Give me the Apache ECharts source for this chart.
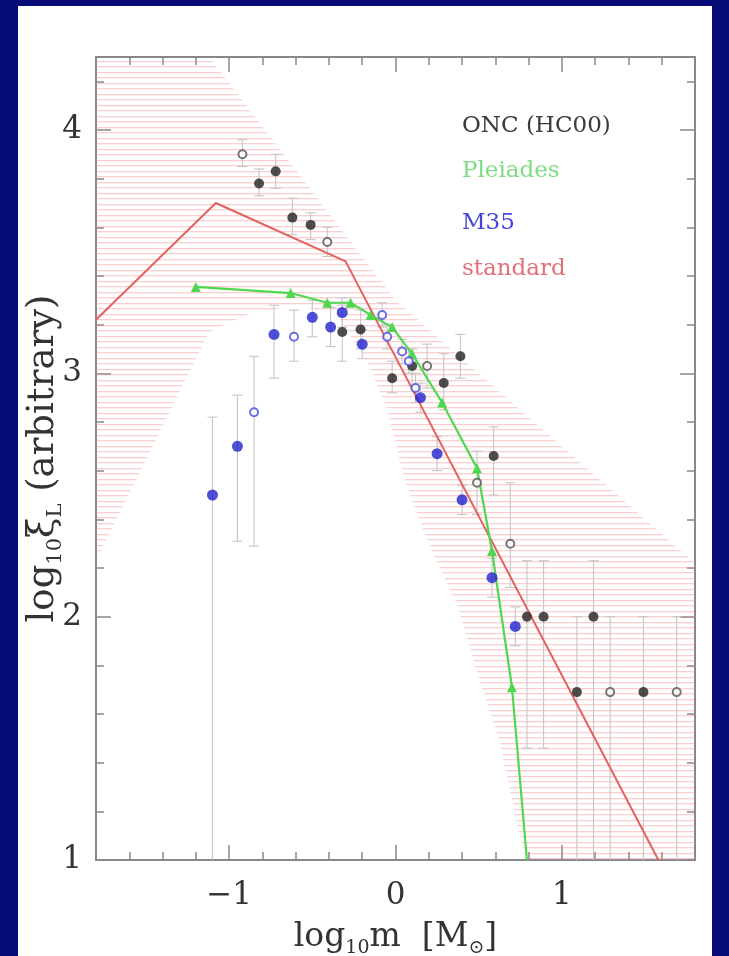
<!DOCTYPE html>
<html>
<head>
<meta charset="utf-8">
<script src="https://cdn.jsdelivr.net/npm/echarts@6/dist/echarts.min.js"></script>
<style>
  html, body { margin: 0; padding: 0; width: 729px; height: 956px; overflow: hidden; background: #070b78; }
  #chart { position: absolute; left: 18px; top: 6px; width: 694px; height: 950px; background: #ffffff; }
</style>
</head>
<body>
<div id="chart"></div>
<script>
// Axis ranges and tick positions
const xMin = -1.8, xMax = 1.8, yMin = 1, yMax = 4.3;
const xMajorTicks = [-1, 0, 1];
const xMinorTicks = [-1.6, -1.4, -1.2, -0.8, -0.6, -0.4, -0.2, 0.2, 0.4, 0.6, 0.8, 1.2, 1.4, 1.6];
const yMajorTicks = [1, 2, 3, 4];
const yMinorTicks = [1.2, 1.4, 1.6, 1.8, 2.2, 2.4, 2.6, 2.8, 3.2, 3.4, 3.6, 3.8, 4.2];

// Standard (multi-part power-law) mass function
const standardX = [-1.8, -1.08, -0.3, 1.58];
const standardY = [3.22, 3.70, 3.46, 1.0];

// Uncertainty envelope of the standard function
const bandUpper = [[-1.8, 4.3], [-1.12, 4.3], [0.0, 3.3], [1.8, 2.22]];
const bandLower = [[-1.8, 2.23], [-1.12, 3.17], [-0.9, 3.24], [-0.6, 3.28], [-0.35, 3.24],
                   [-0.17, 3.05], [-0.05, 2.85], [0.06, 2.55], [0.2, 2.3], [0.37, 2.05],
                   [0.5, 1.75], [0.62, 1.5], [0.7, 1.25], [0.78, 1.0]];

// ONC (Hillenbrand & Carpenter 2000)
const oncX    = [-0.92, -0.82, -0.72, -0.62, -0.51, -0.41, -0.32, -0.21, -0.02, 0.10, 0.19, 0.29, 0.39, 0.49, 0.59, 0.69, 0.79, 0.89, 1.09, 1.19, 1.29, 1.49, 1.69];
const oncY    = [3.90, 3.78, 3.83, 3.64, 3.61, 3.54, 3.17, 3.18, 2.98, 3.03, 3.03, 2.96, 3.07, 2.55, 2.66, 2.30, 2.00, 2.00, 1.69, 2.00, 1.69, 1.69, 1.69];
const oncOpen = [1, 0, 0, 0, 0, 1, 0, 0, 0, 0, 1, 0, 0, 1, 0, 1, 0, 0, 0, 0, 1, 0, 1];
const oncLo   = [3.85, 3.73, 3.76, 3.57, 3.55, 3.48, 3.05, 3.10, 2.92, 2.95, 2.94, 2.85, 2.98, 2.42, 2.50, 2.12, 1.46, 1.46, 1.0, 1.0, 1.0, 1.0, 1.0];
const oncHi   = [3.96, 3.84, 3.90, 3.72, 3.66, 3.60, 3.28, 3.26, 3.05, 3.10, 3.12, 3.08, 3.16, 2.68, 2.78, 2.55, 2.23, 2.23, 2.00, 2.23, 2.00, 2.00, 2.00];

// Pleiades
const pleiadesX = [-1.2, -0.63, -0.41, -0.27, -0.15, -0.02, 0.10, 0.28, 0.49, 0.58, 0.70, 0.79];
const pleiadesY = [3.355, 3.33, 3.29, 3.29, 3.24, 3.19, 3.08, 2.88, 2.61, 2.27, 1.71, 1.0];

// M35
const m35X    = [-1.10, -0.95, -0.85, -0.73, -0.61, -0.50, -0.39, -0.32, -0.20, -0.08, -0.05, 0.04, 0.08, 0.12, 0.15, 0.25, 0.40, 0.58, 0.72];
const m35Y    = [2.50, 2.70, 2.84, 3.16, 3.15, 3.23, 3.19, 3.25, 3.12, 3.24, 3.15, 3.09, 3.05, 2.94, 2.90, 2.67, 2.48, 2.16, 1.96];
const m35Open = [0, 0, 1, 0, 1, 0, 0, 0, 0, 1, 1, 1, 1, 1, 0, 0, 0, 0, 0];
const m35Lo   = [1.0, 2.31, 2.29, 2.98, 3.05, 3.15, 3.11, 3.19, 3.06, 3.19, 3.10, 3.04, 3.00, 2.88, 2.84, 2.60, 2.42, 2.08, 1.88];
const m35Hi   = [2.82, 2.91, 3.07, 3.28, 3.26, 3.30, 3.27, 3.31, 3.18, 3.29, 3.20, 3.14, 3.10, 3.00, 2.96, 2.74, 2.54, 2.24, 2.04];

// Legend entries
const legendLabels = ['ONC (HC00)', 'Pleiades', 'M35', 'standard'];
const legendColors = ['#3a3a3a', '#80dc80', '#4646d6', '#e0707a'];

const frameColor = '#888888';
const serif = 'DejaVu Serif';

// Horizontal hatching used to fill the envelope
const hatch = document.createElement('canvas');
hatch.width = 8; hatch.height = 11;
(function () {
  const c = hatch.getContext('2d');
  c.fillStyle = 'rgba(240,135,135,0.40)';
  c.fillRect(0, 0, 8, 1);
  c.fillRect(0, 5, 8, 1);
  c.fillStyle = 'rgba(240,135,135,0.12)';
  c.fillRect(0, 1, 8, 1);
  c.fillRect(0, 6, 8, 1);
})();

const zip = (xs, ys) => xs.map((x, i) => [x, ys[i]]);
const pick = (xs, ys, flags, f) => xs.map((x, i) => [x, ys[i]]).filter((_, i) => flags[i] === f);
const minus = v => (v < 0 ? '\u2212' + Math.abs(v) : String(v));

function xAxisDef(position, ticks, len, line, labels) {
  return {
    type: 'value', min: xMin, max: xMax, position: position, gridIndex: 0,
    axisLine: { show: line, onZero: false, lineStyle: { color: frameColor, width: 2 } },
    axisTick: { show: true, inside: true, length: len, customValues: ticks, lineStyle: { color: frameColor, width: 1.5 } },
    axisLabel: labels ? { show: true, customValues: ticks, formatter: minus, margin: 20,
      fontFamily: serif, fontSize: 31, color: '#333' } : { show: false },
    splitLine: { show: false }
  };
}
function yAxisDef(position, ticks, len, line, labels) {
  return {
    type: 'value', min: yMin, max: yMax, position: position, gridIndex: 0,
    axisLine: { show: line, onZero: false, lineStyle: { color: frameColor, width: 2 } },
    axisTick: { show: true, inside: true, length: len, customValues: ticks, lineStyle: { color: frameColor, width: 1.5 } },
    axisLabel: labels ? { show: true, customValues: ticks, margin: 14,
      fontFamily: serif, fontSize: 31, color: '#333' } : { show: false },
    splitLine: { show: false }
  };
}

const xAxes = [
  xAxisDef('bottom', xMajorTicks, 15, true, true),
  xAxisDef('bottom', xMinorTicks, 8, false, false),
  xAxisDef('top', xMajorTicks, 15, true, false),
  xAxisDef('top', xMinorTicks, 8, false, false)
];
xAxes[0].name = '{a|log}{s|10}{a|m  [M}{s|\u2299}{a|]}';
xAxes[0].nameLocation = 'middle';
xAxes[0].nameGap = 56;
xAxes[0].nameMoveOverlap = false;
xAxes[0].nameTextStyle = {
  fontFamily: serif, color: '#333',
  rich: {
    a: { fontFamily: serif, fontSize: 33, color: '#333', lineHeight: 42 },
    s: { fontFamily: serif, fontSize: 19, color: '#333', lineHeight: 19, verticalAlign: 'bottom' }
  }
};

const yAxes = [
  yAxisDef('left', yMajorTicks, 15, true, true),
  yAxisDef('left', yMinorTicks, 8, false, false),
  yAxisDef('right', yMajorTicks, 15, true, false),
  yAxisDef('right', yMinorTicks, 8, false, false)
];
yAxes[0].name = '{a|log}{s|10}{a|\u03be}{s|L}{a| (arbitrary)}';
yAxes[0].nameLocation = 'middle';
yAxes[0].nameGap = 30;
yAxes[0].nameMoveOverlap = false;
yAxes[0].nameTextStyle = {
  fontFamily: serif, color: '#333',
  rich: {
    a: { fontFamily: serif, fontSize: 37, color: '#333', lineHeight: 46 },
    s: { fontFamily: serif, fontSize: 21, color: '#333', lineHeight: 21, verticalAlign: 'bottom' }
  }
};

function errorBars(xs, lo, hi) {
  return xs.map((x, i) => [x, lo[i], hi[i]]);
}
function renderErrorBar(params, api) {
  const x = api.value(0), lo = api.value(1), hi = api.value(2);
  const top = api.coord([x, Math.min(hi, yMax)]);
  const bot = api.coord([x, Math.max(lo, yMin)]);
  const st = { stroke: '#c6c6c6', lineWidth: 1.1 };
  const cw = 5;
  const kids = [
    { type: 'line', shape: { x1: top[0], y1: top[1], x2: bot[0], y2: bot[1] }, style: st },
    { type: 'line', shape: { x1: top[0] - cw, y1: top[1], x2: top[0] + cw, y2: top[1] }, style: st }
  ];
  if (lo > yMin) {
    kids.push({ type: 'line', shape: { x1: bot[0] - cw, y1: bot[1], x2: bot[0] + cw, y2: bot[1] }, style: st });
  }
  return { type: 'group', children: kids, silent: true };
}

const chart = echarts.init(document.getElementById('chart'), null, { renderer: 'canvas' });

const pleiadesData = zip(pleiadesX, pleiadesY).map((p, i) =>
  i === pleiadesX.length - 1 ? { value: p, symbol: 'none' } : { value: p });

chart.setOption({
  animation: false,
  backgroundColor: '#ffffff',
  grid: { left: 78, right: 17, top: 51, bottom: 96, containLabel: false, outerBoundsMode: 'none' },
  xAxis: xAxes,
  yAxis: yAxes,
  graphic: legendLabels.map((t, i) => ({
    type: 'text', left: 444, top: [109, 154, 206, 252][i],
    style: { text: t, fill: legendColors[i], font: '23px "DejaVu Serif"' }
  })),
  series: [
    {
      type: 'custom', name: 'envelope', coordinateSystem: 'cartesian2d', z: 1, silent: true,
      data: [[0, 0]],
      renderItem: function (params, api) {
        const pts = bandUpper.concat([[xMax, yMin]]).concat(bandLower.slice().reverse())
          .map(p => api.coord(p));
        return { type: 'polygon', shape: { points: pts },
          style: { fill: { image: hatch, repeat: 'repeat' }, stroke: null } };
      }
    },
    {
      type: 'custom', name: 'ONC errors', z: 2, clip: true,
      data: errorBars(oncX, oncLo, oncHi), renderItem: renderErrorBar
    },
    {
      type: 'custom', name: 'M35 errors', z: 2, clip: true,
      data: errorBars(m35X, m35Lo, m35Hi), renderItem: renderErrorBar
    },
    {
      type: 'line', name: 'standard', z: 3, data: zip(standardX, standardY),
      symbol: 'none', lineStyle: { color: '#e2625f', width: 2 }
    },
    {
      type: 'line', name: 'Pleiades', z: 4, data: pleiadesData,
      symbol: 'triangle', symbolSize: 10,
      itemStyle: { color: '#4fd84f' }, lineStyle: { color: '#4fd84f', width: 2.2 }
    },
    {
      type: 'scatter', name: 'ONC', z: 5, data: pick(oncX, oncY, oncOpen, 0),
      symbol: 'circle', symbolSize: 10, itemStyle: { color: '#222222' }
    },
    {
      type: 'scatter', name: 'ONC open', z: 5, data: pick(oncX, oncY, oncOpen, 1),
      symbol: 'emptyCircle', symbolSize: 8,
      itemStyle: { color: '#555555', borderColor: '#333333', borderWidth: 2.5 }
    },
    {
      type: 'scatter', name: 'M35', z: 5, data: pick(m35X, m35Y, m35Open, 0),
      symbol: 'circle', symbolSize: 11, itemStyle: { color: '#2222cc' }
    },
    {
      type: 'scatter', name: 'M35 open', z: 5, data: pick(m35X, m35Y, m35Open, 1),
      symbol: 'emptyCircle', symbolSize: 8,
      itemStyle: { color: '#4a4ae0', borderColor: '#3a3ad8', borderWidth: 2.5 }
    }
  ]
});
</script>
</body>
</html>
